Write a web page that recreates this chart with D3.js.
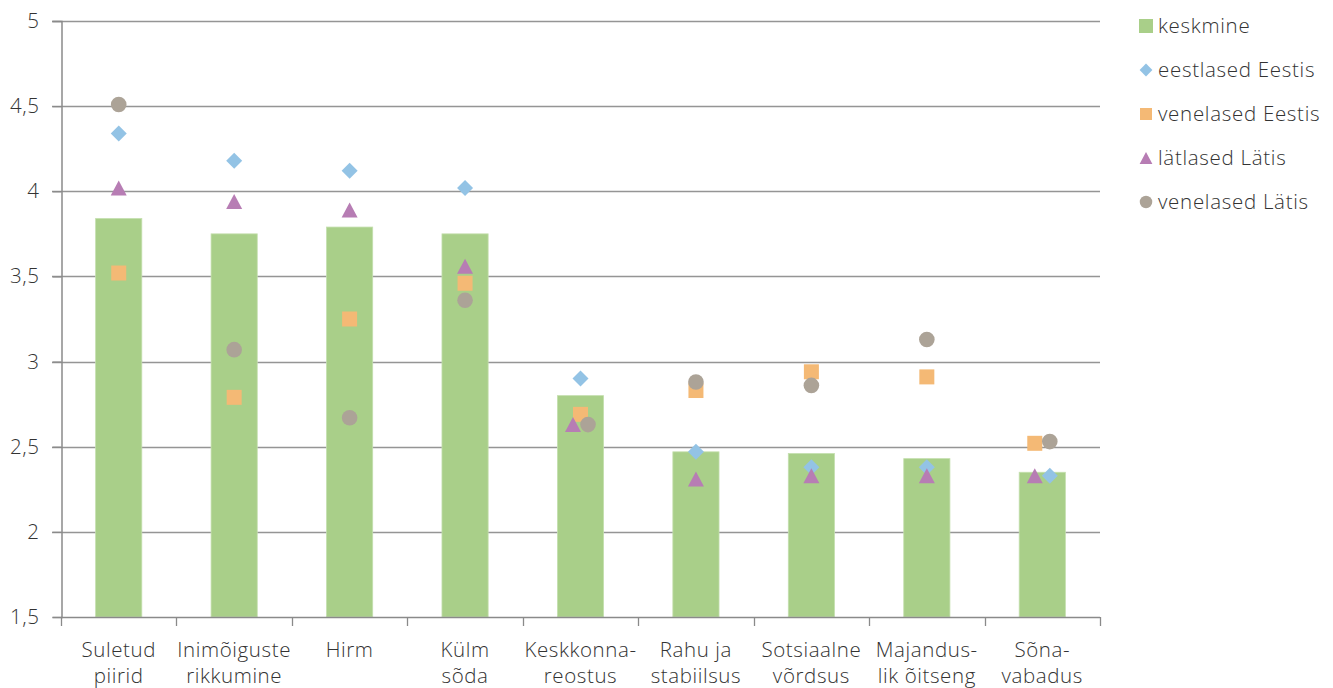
<!DOCTYPE html>
<html>
<head>
<meta charset="utf-8">
<script src="https://cdn.jsdelivr.net/npm/d3@7"></script>
<style>
  html, body { margin: 0; padding: 0; background: #fff; }
  svg { display: block; font-family: "Open Sans", "Noto Sans", sans-serif; font-weight: 300; }
</style>
</head>
<body>
<svg id="chart" width="1333" height="688"></svg>
<script>
// Categories (two-line labels)
const categories = [
  ["Suletud", "piirid"],
  ["Inimõiguste", "rikkumine"],
  ["Hirm"],
  ["Külm", "sõda"],
  ["Keskkonna-", "reostus"],
  ["Rahu ja", "stabiilsus"],
  ["Sotsiaalne", "võrdsus"],
  ["Majandus-", "lik õitseng"],
  ["Sõna-", "vabadus"]
];

// Series values
const keskmine        = [3.84, 3.75, 3.79, 3.75, 2.80, 2.47, 2.46, 2.43, 2.35];
const eestlasedEestis = [4.34, 4.18, 4.12, 4.02, 2.90, 2.47, 2.38, 2.38, 2.33];
const venelasedEestis = [3.52, 2.79, 3.25, 3.46, 2.69, 2.83, 2.94, 2.91, 2.52];
const latlasedLatis   = [4.02, 3.94, 3.89, 3.56, 2.63, 2.31, 2.33, 2.33, 2.33];
const venelasedLatis  = [4.51, 3.07, 2.67, 3.36, 2.63, 2.88, 2.86, 3.13, 2.53];

// Horizontal shift of scatter points within a category (in category units)
const eestlasedEestisShift = [0, 0, 0, 0, 0, 0, 0, 0, 0.065];
const venelasedEestisShift = [0, 0, 0, 0, 0, 0, 0, 0, -0.065];
const latlasedLatisShift   = [0, 0, 0, 0, -0.065, 0, 0, 0, -0.065];
const venelasedLatisShift  = [0, 0, 0, 0, 0.065, 0, 0, 0, 0.065];

// Axis ticks
const yTicks = [1.5, 2, 2.5, 3, 3.5, 4, 4.5, 5];
const yTickLabels = ["1,5", "2", "2,5", "3", "3,5", "4", "4,5", "5"];

const legendLabels = ["keskmine", "eestlased Eestis", "venelased Eestis", "lätlased Lätis", "venelased Lätis"];

const colors = {
  bar: "#a9cf89",
  diamond: "#93c3e5",
  square: "#f4b975",
  triangle: "#b77db4",
  circle: "#aca397"
};

const FONT_SIZE = 20.5;
const LETTER_SP = "0.6px";

const svg = d3.select("#chart");
const margin = { left: 61, right: 233, top: 21, bottom: 71 };
const W = 1333, H = 688;
const plotL = margin.left, plotR = W - margin.right, plotT = margin.top, plotB = H - margin.bottom;

const idx = d3.range(categories.length);
const x = d3.scaleBand().domain(idx).range([plotL, plotR]).padding(0);
const y = d3.scaleLinear().domain([1.5, 5]).range([plotB, plotT]);
const bw = x.bandwidth();
const cx = (i, s) => x(i) + bw / 2 + (s || 0) * bw;

// Gridlines
svg.append("g")
  .selectAll("line")
  .data(yTicks.filter(t => t > 1.5))
  .join("line")
  .attr("x1", plotL - 9).attr("x2", plotR)
  .attr("y1", d => Math.round(y(d)) + 0.5).attr("y2", d => Math.round(y(d)) + 0.5)
  .attr("stroke", "#959595").attr("stroke-width", 1.3);

// Bars
svg.append("g")
  .selectAll("rect")
  .data(keskmine)
  .join("rect")
  .attr("x", (d, i) => cx(i) - bw * 0.2)
  .attr("width", bw * 0.4)
  .attr("y", d => y(d))
  .attr("height", d => y(1.5) - y(d))
  .attr("fill", colors.bar)
  .attr("stroke", "#c4dfae").attr("stroke-width", 0.8);

// Y axis
const yAxis = d3.axisLeft(y)
  .tickValues(yTicks)
  .tickFormat((d, i) => yTickLabels[i])
  .tickSize(9)
  .tickPadding(13);
const gy = svg.append("g").attr("transform", `translate(${plotL + 0.5},0)`).call(yAxis);
gy.select(".domain").attr("stroke", "#8a8a8a").attr("stroke-width", 1.5);
gy.selectAll(".tick line").attr("stroke", "#8a8a8a").attr("stroke-width", 1.3);
gy.selectAll(".tick text")
  .attr("font-family", "'Open Sans', sans-serif").attr("font-weight", 300)
  .attr("font-size", FONT_SIZE).attr("letter-spacing", LETTER_SP).attr("fill", "#333");

// X axis baseline and category separators
const xAxisG = svg.append("g");
xAxisG.append("line")
  .attr("x1", plotL).attr("x2", plotR)
  .attr("y1", y(1.5) + 0.5).attr("y2", y(1.5) + 0.5)
  .attr("stroke", "#8a8a8a").attr("stroke-width", 1.5);
xAxisG.selectAll("line.sep")
  .data(d3.range(categories.length + 1))
  .join("line").attr("class", "sep")
  .attr("x1", i => Math.round(plotL + i * bw) + 0.5)
  .attr("x2", i => Math.round(plotL + i * bw) + 0.5)
  .attr("y1", y(1.5)).attr("y2", y(1.5) + 9)
  .attr("stroke", "#8a8a8a").attr("stroke-width", 1.3);

// Category labels
const labels = svg.append("g")
  .selectAll("text")
  .data(categories)
  .join("text")
  .attr("text-anchor", "middle")
  .attr("font-size", FONT_SIZE).attr("letter-spacing", LETTER_SP).attr("fill", "#333")
  .attr("x", (d, i) => cx(i))
  .attr("y", 657);
labels.selectAll("tspan")
  .data(d => d)
  .join("tspan")
  .attr("x", function () { return d3.select(this.parentNode).attr("x"); })
  .attr("dy", (d, i) => i === 0 ? 0 : 26)
  .text(d => d);

// Marker shapes
function diamondPath(r) { return `M0,${-r}L${r},0L0,${r}L${-r},0Z`; }
function trianglePath(w, h) { return `M0,${-h / 2}L${w / 2},${h / 2}L${-w / 2},${h / 2}Z`; }

const series = [
  { vals: eestlasedEestis, shift: eestlasedEestisShift, kind: "diamond" },
  { vals: venelasedEestis, shift: venelasedEestisShift, kind: "square" },
  { vals: latlasedLatis,   shift: latlasedLatisShift,   kind: "triangle" },
  { vals: venelasedLatis,  shift: venelasedLatisShift,  kind: "circle" }
];

function drawMarker(g, kind, px, py, scale) {
  const s = scale || 1;
  if (kind === "diamond") {
    g.append("path").attr("d", diamondPath(8 * s)).attr("transform", `translate(${px},${py})`).attr("fill", colors.diamond);
  } else if (kind === "square") {
    g.append("rect").attr("x", px - 7.5 * s).attr("y", py - 7.5 * s).attr("width", 15 * s).attr("height", 15 * s).attr("fill", colors.square);
  } else if (kind === "triangle") {
    g.append("path").attr("d", trianglePath(16 * s, 15 * s)).attr("transform", `translate(${px},${py})`).attr("fill", colors.triangle);
  } else if (kind === "circle") {
    g.append("circle").attr("cx", px).attr("cy", py).attr("r", 7.8 * s).attr("fill", colors.circle);
  } else if (kind === "bar") {
    g.append("rect").attr("x", px - 7 * s).attr("y", py - 7 * s).attr("width", 14 * s).attr("height", 14 * s).attr("fill", colors.bar);
  }
}

const markersG = svg.append("g");
series.forEach(sr => {
  sr.vals.forEach((v, i) => drawMarker(markersG, sr.kind, cx(i, sr.shift[i]), y(v)));
});

// Legend
const legendKinds = ["bar", "diamond", "square", "triangle", "circle"];
const legendG = svg.append("g");
legendLabels.forEach((lbl, i) => {
  const ly = 26 + i * 44;
  drawMarker(legendG, legendKinds[i], 1146, ly, legendKinds[i] === "bar" ? 1 : 0.8);
  legendG.append("text")
    .attr("x", 1158).attr("y", ly)
    .attr("dy", "0.35em")
    .attr("font-size", FONT_SIZE).attr("letter-spacing", "0.7px").attr("fill", "#333")
    .text(lbl);
});
</script>
</body>
</html>
